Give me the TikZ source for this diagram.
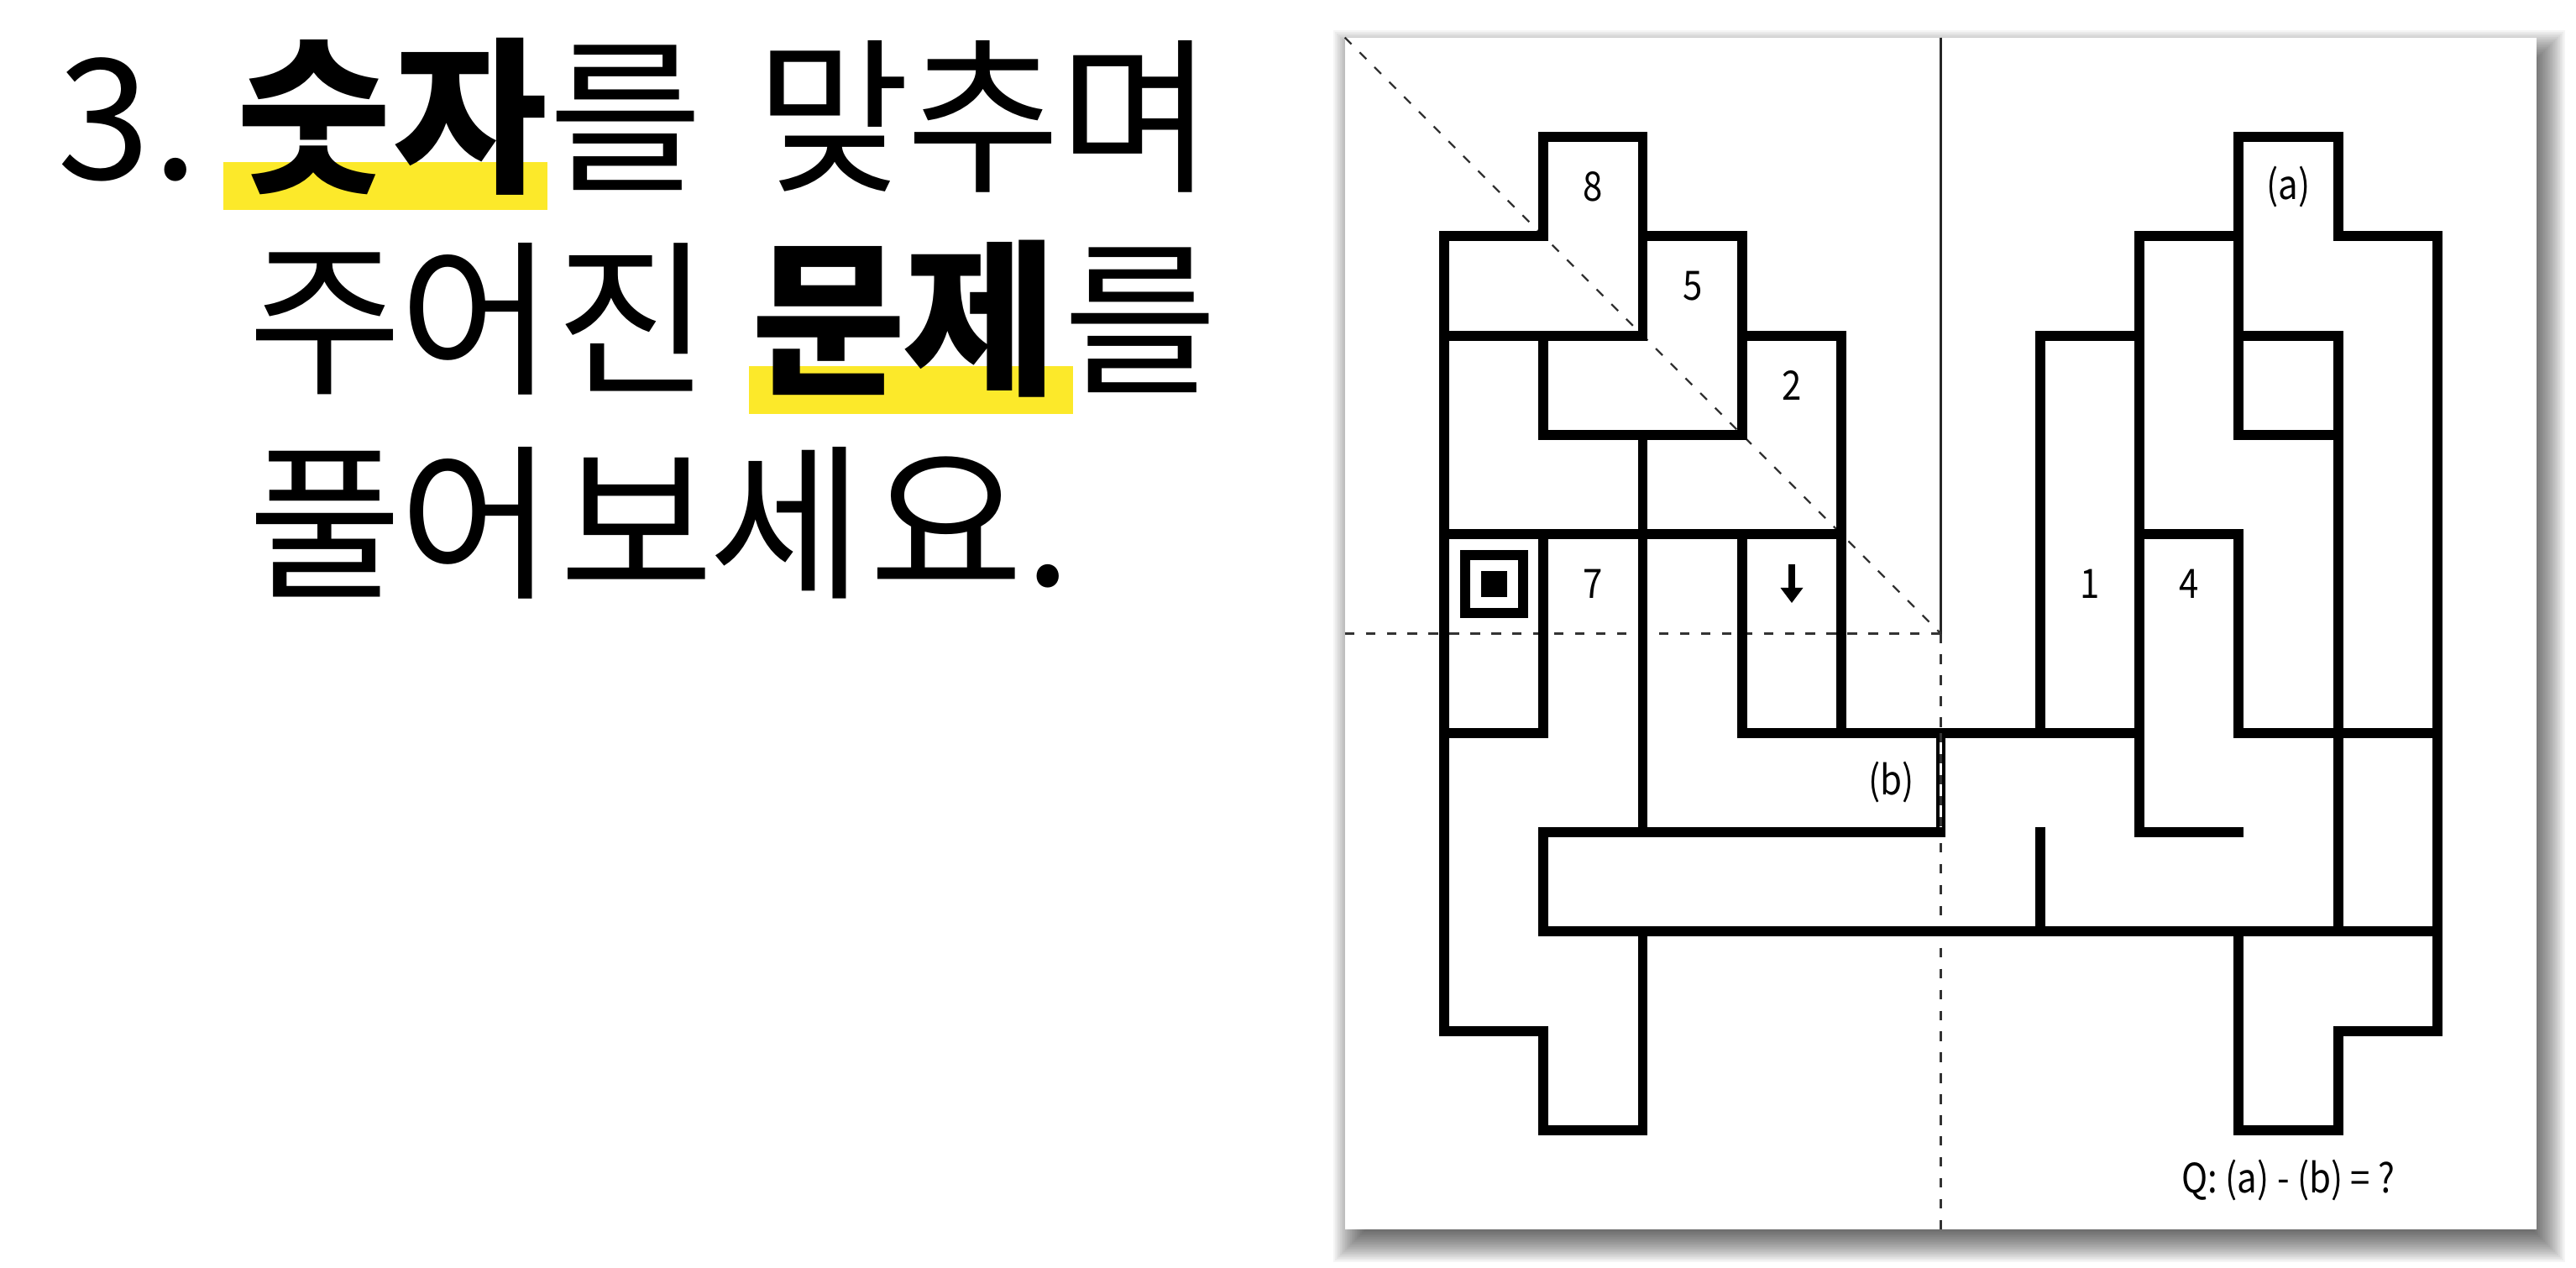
\documentclass[tikz,border=0pt]{standalone}
\usepackage{fontspec}
\setmainfont{Noto Sans CJK KR}
\newfontfamily\titlefont{Noto Sans CJK KR}
\definecolor{hl}{RGB}{252,233,42}
\newcommand\lbx[1]{\scalebox{0.87}[1]{#1}}
\begin{document}
\begin{tikzpicture}[x=1cm,y=1cm,
  maze/.style={line width=0.1cm, line cap=rect, line join=miter},
  guide/.style={line width=0.55pt, black!85},
  guidedash/.style={line width=0.55pt, black!80, dash pattern=on 2.7pt off 3.3pt},
  lbl/.style={font=\fontsize{11.6}{14}\selectfont, inner sep=0pt},
  ttl/.style={font={\titlefont\fontsize{48}{56}\selectfont}, inner sep=0pt, anchor=base},
  ttlb/.style={font={\titlefont\bfseries\fontsize{48}{56}\selectfont}, inner sep=0pt, anchor=base}]
\useasboundingbox (-14.539,1.378) rectangle (11.395,-11.386);
\fill[white] (-14.539,1.378) rectangle (11.395,-11.386);
% title highlights
\fill[hl] (-12.291,-0.2536) rectangle (-9.028,-0.7354);
\fill[hl] (-6.999,-2.308) rectangle (-3.736,-2.790);
% title line 1
\node[ttl]  (c11) at (-13.495,-0.4227) {3};
\node[ttl]  (c12) at (-12.768,-0.4227) {.};
\node[ttlb] (c13) at (-11.374,-0.4227) {숫};
\node[ttlb] (c14) at (-9.801,-0.4227) {자};
\node[ttl]  (c15) at (-8.242,-0.4227) {를};
\node[ttl]  (c16) at (-6.150,-0.4227) {맞};
\node[ttl]  (c17) at (-4.640,-0.4227) {추};
\node[ttl]  (c18) at (-3.102,-0.4227) {며};
% title line 2
\node[ttl]  (c21) at (-11.264,-2.468) {주};
\node[ttl]  (c22) at (-9.746,-2.468) {어};
\node[ttl]  (c23) at (-8.170,-2.468) {진};
\node[ttlb] (c24) at (-6.192,-2.468) {문};
\node[ttlb] (c25) at (-4.670,-2.468) {제};
\node[ttl]  (c26) at (-3.060,-2.468) {를};
% title line 3
\node[ttl]  (c31) at (-11.264,-4.514) {풀};
\node[ttl]  (c32) at (-9.746,-4.514) {어};
\node[ttl]  (c33) at (-8.132,-4.514) {보};
\node[ttl]  (c34) at (-6.623,-4.514) {세};
\node[ttl]  (c35) at (-5.013,-4.514) {요};
\node[ttl]  (c36) at (-3.986,-4.514) {.};
% shadow
\foreach \r in {-24,-22,...,24} {
  \fill[black, fill opacity=0.04] ({-1+0.085-\r*0.008453},{1-0.127+\r*0.008453}) rectangle ({11+0.085+\r*0.008453},{-11-0.127-\r*0.008453});
}
\fill[white] (-1,1) rectangle (11,-11);
% guides
\draw[guide] (5,1) -- (5,-5);
\draw[guidedash] (5,-5) -- (5,-11);
\draw[guidedash] (-1,-5) -- (5,-5);
\draw[guidedash] (-1,1) -- (5,-5);
% maze
\draw[maze] (2,-8)--(2,-10)--(1,-10)--(1,-9)--(0,-9)--(0,-1)--(1,-1)--(1,0)--(2,0)--(2,-2);
\draw[maze] (0,-2)--(2,-2);
\draw[maze] (2,-1)--(3,-1)--(3,-3)--(1,-3)--(1,-2);
\draw[maze] (3,-2)--(4,-2)--(4,-6);
\draw[maze] (2,-3)--(2,-7);
\draw[maze] (0,-4)--(4,-4);
\draw[maze] (1,-4)--(1,-6)--(0,-6);
\draw[maze] (3,-4)--(3,-6)--(7,-6);
\draw[maze] (5,-6)--(5,-7)--(1,-7)--(1,-8)--(10,-8);
\draw[maze] (6,-7)--(6,-8);
\draw[maze] (6,-6)--(6,-2)--(7,-2);
\draw[maze] (8,-7)--(7,-7)--(7,-1)--(8,-1);
\draw[maze] (8,-3)--(8,0)--(9,0)--(9,-1)--(10,-1)--(10,-9)--(9,-9)--(9,-10)--(8,-10)--(8,-8);
\draw[maze] (8,-2)--(9,-2)--(9,-8);
\draw[maze] (8,-3)--(9,-3);
\draw[maze] (7,-4)--(8,-4)--(8,-6)--(10,-6);
\draw[white, line width=0.6pt] (5,-6.05) -- (5,-6.95);
\draw[guidedash] (5,-6) -- (5,-7);
% symbol and arrow
\draw[line width=0.1cm] (0.2085,-4.7915) rectangle (0.7915,-4.2085);
\fill (0.369,-4.631) rectangle (0.631,-4.369);
\fill (3.47,-4.306) rectangle (3.53,-4.545);
\fill (3.386,-4.539) -- (3.614,-4.539) -- (3.5,-4.691) -- cycle;
% labels
\node[lbl] (n8) at (1.5,-0.5) {\lbx{8}};
\node[lbl] (n5) at (2.5,-1.5) {\lbx{5}};
\node[lbl] (n2) at (3.5,-2.5) {\lbx{2}};
\node[lbl] (n7) at (1.5,-4.5) {\lbx{7}};
\node[lbl] (n1) at (6.5,-4.5) {\lbx{1}};
\node[lbl] (n4) at (7.5,-4.5) {\lbx{4}};
\node[lbl] (na) at (8.5,-0.5) {\lbx{(a)}};
\node[lbl] (nb) at (4.5,-6.5) {\lbx{(b)}};
\node[lbl] (nq) at (8.5,-10.5) {\lbx{Q: (a) - (b) = ?}};
\end{tikzpicture}
\end{document}
